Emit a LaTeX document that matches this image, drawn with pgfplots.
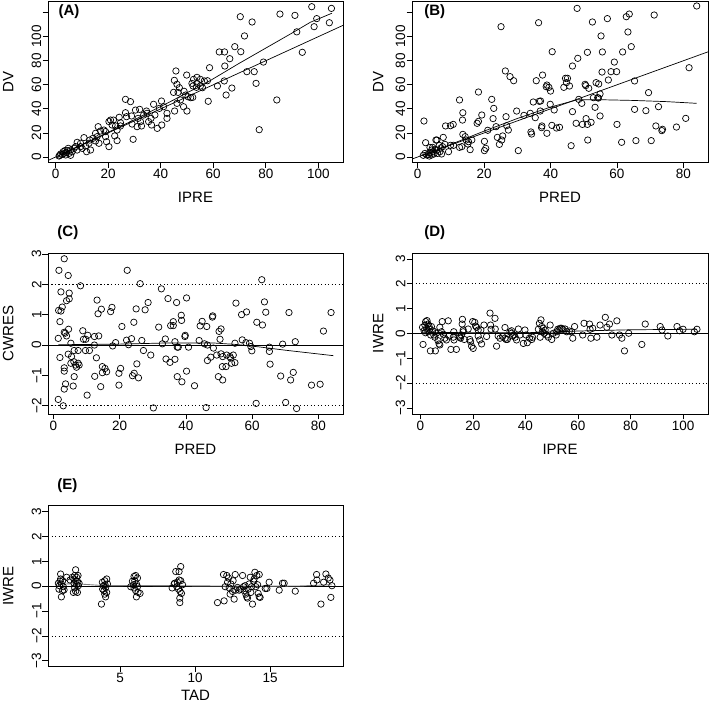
\documentclass[border=0pt]{standalone}
\usepackage{fontspec}
\setmainfont{Liberation Sans}
\usepackage{pgfplots}
\pgfplotsset{compat=1.18}
\newcommand\tkf{\fontsize{13.5}{16}\selectfont}
\newcommand\lbf{\fontsize{15}{18}\selectfont}
\newcommand\ttf{\fontsize{15}{18}\selectfont\bfseries}
\begin{document}
\begin{tikzpicture}
\useasboundingbox (0pt,0pt) rectangle (709pt,709pt);
\pgfplotsset{
  rbase/.style={
    scale only axis, width=295pt, height=161pt, anchor=south west,
    axis line style={line width=0.75pt, black},
    tick align=outside, xtick pos=left, ytick pos=left,
    major tick length=5.5pt,
    tick style={black, line width=0.75pt},
    xticklabel style={font=\tkf, inner sep=1pt},
    yticklabel style={font=\tkf, rotate=90, anchor=south, inner sep=1pt},
    xlabel style={font=\lbf, at={(axis description cs:0.5,-0.22)}, anchor=center},
    ylabel style={font=\lbf, at={(axis description cs:-0.135,0.5)}, anchor=center},
    title style={font=\ttf, anchor=west},
    clip=true,
  },
  pts/.style={only marks, mark=o, mark size=3.2pt, mark options={line width=0.7pt, black}, black},
  ln/.style={no marks, black, line width=0.7pt},
  dl/.style={no marks, black, line width=0.7pt, dash pattern=on 1.3pt off 2.2pt},
}
% ---------------- (A)
\begin{axis}[rbase, at={(48pt,546.7pt)},
  xmin=-2.9, xmax=109.4, ymin=-4.4, ymax=129.4,
  xtick={0,20,40,60,80,100}, xticklabels={0,20,40,60,80,100},
  ytick={0,20,40,60,80,100,120}, yticklabels={0,20,40,60,80,100,{}},
  xlabel={IPRE}, ylabel={DV},
  title={(A)}, title style={at={(axis description cs:0.024,0.9)}}]
\addplot[pts] coordinates {
(97.5,124.9)(105,123.5)(85.4,118.8)(91.1,117.7)(70.3,116.6)(74.8,112.2)(99.4,115)(104.2,111.6)
(98.4,108.3)(91.8,104)(71.9,100.6)(93.9,87)(68.2,91.7)(70.5,87.5)(62.3,87.3)(64.3,87.3)
(66.3,81.7)(79.1,78.9)(64.4,75.6)(58.6,74.2)(72.8,70.9)(75.6,70.9)(45.8,71.5)(49.9,68.1)
(76.3,61.2)(67.1,57.3)(64.9,51.5)(64.2,63.2)(61.6,59)(58.1,46.3)(84.2,47.4)(77.5,22.7)
(45.2,63.7)(46.2,60.4)(47.1,57.6)(44.9,53.7)(46.6,53.7)(48.9,54.6)(49.5,51.5)(50.4,50.1)
(51.4,49.3)(52.2,49.6)(47.5,47.4)(46.2,44.6)(48.7,41.8)(45.3,38.2)(50.0,38.2)(52.5,64.5)
(53.8,66.2)(55.1,64.5)(56.6,63.2)(57.8,63.4)(51.9,61.2)(53.8,61.2)(55.1,59)(55.9,57.6)
(53.6,57.9)(52.3,59)(26.6,47.9)(28.5,46)(40.3,46.5)(37.3,43.8)(32.0,39.6)(34.6,38.2)
(34.8,36.3)(39.5,40.4)(41.1,41.8)(42.4,36.3)(42.4,32.1)(40.4,26.6)(38.7,23.8)(36.5,26.6)
(36.3,32.1)(35.4,29.4)(31.4,32.1)(32.3,29.4)(32.7,25.8)(31.0,25.2)(29.1,27.4)(29.5,14.7)
(26.6,36.8)(27.0,33.5)(24.2,33)(28.9,34.1)(24.7,25.8)(20.9,30.7)(20.3,29.4)(21.5,26.6)
(22.8,25.8)(23.4,22.4)(22.5,17.5)(23.4,13.6)(19.0,16.9)(19.4,12.7)(20.3,8.6)(16.2,25.2)
(17.1,21.6)(19.0,21.1)(18.4,22.4)(15.2,19.7)(15.8,16.9)(14.2,15.5)(15.2,13.3)(16.5,11.4)
(13.0,14.1)(10.8,16.1)(12.7,11.4)(11.4,9.1)(9.5,8.6)(11.8,4.4)(13.3,5.8)(8.2,12.2)
(7.6,8.6)(8.2,5.8)(7.0,7.2)(5.7,5.8)(6.3,4.4)(5.1,3.0)(4.2,3.6)(3.2,3.0)(2.5,2.2)(1.6,1.4)
(3.8,1.7)(4.4,5.3)(5.7,1.4)(1.9,2.5)(1.3,0.8)(2.9,4.4)(3.5,5.3)(4.8,7.2)(9.5,11.4)(10.1,7.2)
(22,30.7)(30.4,39)(33.5,34.9)(37.8,34.9)(24.7,28.5)};
\addplot[ln] coordinates {(-2.9,-2.9)(109.4,109.4)};
\addplot[ln] coordinates {(1.2,1.2)(10,10.2)(20,20.5)(30,31)(40,42)(45,47.5)(50,53.5)(55,58.5)(60,65)(70,78)(80,90.5)(90,103)(97,112)(105.2,119.5)};
\end{axis}
% ---------------- (B)
\begin{axis}[rbase, at={(412pt,546.7pt)}, width=296pt,
  xmin=-1.7, xmax=87.4, ymin=-4.4, ymax=129.4,
  xtick={0,20,40,60,80}, xticklabels={0,20,40,60,80},
  ytick={0,20,40,60,80,100,120}, yticklabels={0,20,40,60,80,100,{}},
  xlabel={PRED}, ylabel={DV},
  ylabel style={at={(axis description cs:-0.114,0.5)}},
  title={(B)}, title style={at={(axis description cs:0.03,0.9)}}]
\addplot[pts] coordinates {
(84.0,125.5)(48.0,123.5)(63.7,118.8)(71.2,118)(62.8,116.6)(57.1,115)(52.6,112.2)(36.4,111.6)
(25.1,108.3)(63.3,103.9)(55.2,100.6)(64.3,91.7)(40.5,87.5)(51.1,87)(55.6,87.3)(61.7,87.3)
(48.2,82)(46.6,75.6)(59.2,78.9)(55.5,70.6)(58.2,70.9)(59.9,70.9)(57.4,64)(81.7,74.2)
(26.4,71.5)(27.8,66.8)(28.9,63.4)(35.7,63.4)(44.5,65.4)(45.1,65.4)(44.8,61.8)(44.0,57.9)
(45.7,59.0)(37.6,68.1)(38.9,59.8)(39.5,57.9)(40.0,54.8)(38.7,58.4)(50.4,60.4)(50.6,59.3)
(51.5,57.1)(53.7,61.8)(54.5,60.7)(65.3,63.2)(69.5,53.5)(52.9,49.3)(54.2,49.3)(54.9,52.4)
(54.4,49)(48.5,47.9)(49.4,44.6)(53.4,41.3)(54.9,34.1)(46.6,37.7)(65.3,39.6)(68.7,38.5)
(72.5,41.8)(47.7,28.0)(49.6,27.1)(50.7,31.9)(51.1,27.1)(52.2,28.8)(60.0,27.1)(71.7,25.8)
(73.5,21.9)(73.7,23.0)(77.9,24.9)(80.7,32.1)(51.2,14.1)(46.2,9.4)(61.4,12.2)(65.7,13.6)
(70.3,13.6)(41.8,24.1)(42.7,24.7)(40.4,26.3)(37.4,25.8)(37.3,24.4)(38.9,19.7)(34.1,20.8)
(34.3,19.1)(41.1,39.1)(39.9,43.8)(36.6,46.3)(37.0,46.5)(34.8,45.7)(36.9,38.2)(35.4,32.7)
(33.9,36.3)(32.0,34.6)(29.8,38.2)(30.3,5.3)(26.6,33.5)(27.3,22.4)(26.8,26.0)(25.6,17.5)
(24.6,10.5)(25.3,14.1)(24.0,16.3)(23.6,25.2)(22.7,31.9)(22.3,47.9)(22.9,40.4)(21.1,22.2)
(20.1,5.3)(20.5,7.2)(20.1,13.0)(19.3,34.9)(18.3,54.0)(17.9,28.0)(18.3,29.6)(12.6,47.4)
(13.6,36.8)(13.5,30.7)(13.6,18.8)(14.3,16.9)(14.6,14.1)(15.3,12.7)(15.8,6.1)(16.3,14.1)
(15.1,10.8)(12.6,8.0)(13.3,8.6)(9.9,26.0)(8.4,25.8)(10.7,27.1)(7.7,16.3)(9.3,4.4)(9.9,9.7)
(10.8,9.7)(8.2,10.5)(7.5,8.6)(7.0,7.5)(6.5,9.7)(5.5,14.1)(5.8,14.1)(7.2,2.5)(6.7,4.4)
(5.7,5.8)(4.7,4.4)(4.2,5.8)(3.7,3.6)(3.2,2.2)(2.7,1.7)(2.2,3.0)(1.7,1.4)(3.5,0.8)(2.4,11.9)
(1.9,29.9)(3.7,8.0)(4.5,8.0)(5.2,6.4)(6.0,3.0)(4.2,1.7)(4.9,2.5)};
\addplot[ln] coordinates {(-1.7,-1.7)(87.4,87.4)};
\addplot[ln] coordinates {(1.5,1.2)(10,10.5)(20,21.5)(30,32)(40,41.5)(48,47.5)(55,47.6)(65,47)(75,46)(84,44.6)};
\end{axis}
% ---------------- (C)
\begin{axis}[rbase, at={(48pt,295pt)},
  xmin=-1.6, xmax=87.4, ymin=-2.27, ymax=3.03,
  xtick={0,20,40,60,80}, xticklabels={0,20,40,60,80},
  ytick={-2,-1,0,1,2,3}, yticklabels={−2,−1,0,1,2,3},
  xlabel={PRED}, ylabel={CWRES},
  title={(C)}, title style={at={(axis description cs:0.02,1.087)}}]
\addplot[pts] coordinates {
(3.3,2.84)(1.7,2.46)(4.5,2.29)(22.3,2.46)(26.2,2.02)(8.2,1.95)(62.9,2.15)(2.3,1.75)(4.8,1.71)
(4.8,1.52)(4.0,1.46)(2.7,1.25)(1.6,1.14)(2.3,1.12)(13.2,1.48)(17.7,1.24)(14.5,1.18)(13.5,1.03)
(17.3,1.10)(28.6,1.40)(25.0,1.19)(27.7,1.16)(34.6,1.53)(40.2,1.55)(37.2,1.40)(32.6,1.85)
(55.1,1.38)(48.1,0.96)(48.0,0.92)(38.6,0.98)(38.7,0.81)(36.2,0.77)(36.2,0.64)(35.4,0.64)
(44.9,0.78)(44.3,0.63)(46.3,0.61)(50.6,0.53)(50.0,0.45)(56.8,1.00)(58.3,1.09)(63.7,1.42)
(64.1,1.08)(71.1,1.07)(83.8,1.07)(81.5,0.46)(63.1,0.66)(61.4,0.75)(31.8,0.59)(24.3,0.75)
(20.7,0.61)(2.0,0.77)(3.6,0.39)(4.6,0.52)(3.3,0.42)(1.5,0.22)(4.0,0.30)(5.3,0.06)(8.9,0.47)
(9.8,0.19)(9.1,0.19)(10.4,0.32)(12.4,0.28)(13.7,0.30)(9.7,-0.18)(10.9,-0.18)(12.4,0.00)
(18.8,0.08)(17.9,-0.03)(22.1,0.16)(23.6,0.21)(22.7,0.01)(26.7,0.15)(27.2,-0.18)(29.4,-0.33)
(32.9,0.04)(33.8,0.20)(36.7,0.11)(37.4,-0.07)(40.8,-0.07)(39.7,0.28)(39.8,0.32)(44.0,0.15)
(45.6,0.04)(46.5,0.00)(50.3,0.19)(48.3,-0.10)(54.8,0.06)(57.0,0.17)(58.1,0.08)(59.2,0.06)
(59.6,-0.05)(59.9,-0.19)(65.2,-0.07)(65.2,-0.21)(69.2,0.03)(73.0,0.11)(2.0,-0.41)(4.5,-0.30)
(5.5,-0.38)(6.3,-0.18)(7.5,-0.18)(5.3,-0.60)(6.2,-0.55)(6.7,-0.66)(7.0,-0.73)(7.5,-0.60)
(7.8,-0.66)(3.3,-0.75)(3.3,-0.86)(6.3,-1.04)(6.0,-1.35)(3.7,-1.28)(3.3,-1.45)(1.5,-1.79)
(3.0,-2.0)(10.2,-1.65)(13.0,-0.42)(12.5,-1.03)(14.3,-1.37)(14.8,-0.71)(14.8,-0.91)(15.6,-0.77)
(16.1,-0.88)(19.8,-0.93)(20.3,-0.77)(19.8,-1.32)(23.9,-1.01)(24.4,-0.93)(25.2,-0.62)(25.7,-1.08)
(30.2,-2.07)(34.0,-0.46)(35.2,-0.57)(36.7,-0.47)(37.7,-0.07)(37.4,-1.04)(38.8,-1.21)(40.2,-0.86)
(42.6,-1.34)(46.1,-2.06)(46.5,-0.51)(47.5,-0.40)(49.3,-0.33)(49.8,-1.04)(51.1,-1.15)(50.6,-0.29)
(51.1,-0.38)(51.0,-0.71)(52.1,-0.71)(52.3,-0.33)(53.3,-0.38)(53.5,-0.43)(53.8,-0.60)(54.3,-0.33)
(54.8,-0.58)(65.4,-0.63)(68.6,-1.02)(71.6,-1.15)(72.4,-0.90)(61.2,-1.92)(70.1,-1.89)(73.4,-2.09)
(77.9,-1.32)(80.5,-1.29)};
\addplot[ln] coordinates {(-1.6,0)(87.4,0)};
\addplot[dl] coordinates {(-1.6,2)(87.4,2)};
\addplot[dl] coordinates {(-1.6,-2)(87.4,-2)};
\addplot[ln] coordinates {(1.5,0.01)(20,0.03)(35,0.07)(48,0.07)(55,0.02)(62,-0.06)(70,-0.17)(84.5,-0.35)};
\end{axis}
% ---------------- (D)
\begin{axis}[rbase, at={(412pt,295pt)}, width=296pt,
  xmin=-3.2, xmax=109.5, ymin=-3.24, ymax=3.24,
  xtick={0,20,40,60,80,100}, xticklabels={0,20,40,60,80,100},
  ytick={-3,-2,-1,0,1,2,3}, yticklabels={−3,−2,−1,0,1,2,3},
  xlabel={IPRE}, ylabel={IWRE},
  ylabel style={at={(axis description cs:-0.114,0.5)}},
  title={(D)}, title style={at={(axis description cs:0.03,1.087)}}]
\addplot[pts] coordinates {
(1.0,-0.44)(0.8,0.25)(1.4,0.11)(1.7,0.34)(2.0,0.48)(2.5,0.52)(2.9,0.38)(2.3,0.21)(1.9,0.03)
(2.9,0.07)(3.6,0.17)(3.9,-0.06)(3.3,0.28)(4.2,0.28)(4.6,0.11)(5.1,-0.06)(5.5,-0.15)(5.5,0.07)
(3.8,-0.70)(5.7,-0.70)(6.1,0.01)(6.7,-0.29)(7.1,-0.42)(7.4,-0.46)(7.4,0.25)(8.0,0.07)(8.3,0.48)
(8.7,-0.03)(9.3,-0.19)(9.9,-0.26)(10.6,0.51)(10.9,-0.10)(11.6,-0.64)(12.5,-0.15)(12.7,0.07)
(12.8,-0.26)(13.7,-0.64)(14.8,-0.10)(15.0,-0.15)(15.3,-0.19)(15.6,-0.06)(15.9,0.38)(16.0,0.57)
(16.3,0.07)(16.3,0.14)(16.7,-0.24)(18.2,0.18)(18.8,-0.24)(19.1,-0.33)(19.5,-0.51)(20.1,-0.60)
(19.9,0.48)(20.7,0.45)(21.0,0.30)(21.4,0.25)(22.0,0.14)(22.0,-0.10)(22.6,-0.26)(23.0,0.14)
(23.3,-0.42)(24.2,0.34)(25.2,-0.12)(26.5,0.82)(26.7,0.34)(26.9,0.17)(28.4,0.61)(28.5,0.18)
(29.0,-0.51)(29.6,-0.10)(30.3,-0.19)(31.3,-0.12)(32.2,0.24)(32.2,-0.19)(32.6,-0.24)(33.1,-0.24)
(34.1,0.07)(34.7,0.11)(34.7,0.01)(35.1,-0.10)(35.6,-0.06)(36.1,-0.15)(36.6,-0.26)(37.3,0.18)
(37.9,-0.06)(39.2,-0.40)(39.8,0.14)(40.2,-0.06)(40.7,-0.37)(41.5,-0.19)(42.4,-0.24)(42.7,-0.15)
(44.9,0.17)(45.3,0.41)(45.6,-0.15)(45.9,0.55)(46.2,0.28)(46.4,0.07)(46.8,0.21)(47.1,0.01)
(47.5,0.14)(48.1,-0.06)(48.7,-0.15)(49.4,0.34)(50.0,-0.24)(50.6,0.01)(51.7,-0.06)(51.9,0.07)
(52.3,0.17)(52.8,0.14)(53.2,0.21)(53.8,0.21)(54.2,0.17)(55.1,0.18)(55.7,0.07)(56.7,0.10)
(57.6,0.07)(58.0,-0.19)(58.7,0.28)(61.8,-0.06)(62.3,0.41)(64.4,0.38)(64.6,0.17)(64.9,-0.19)
(65.6,0.21)(67.2,-0.15)(68.4,0.34)(70.4,0.65)(71.0,0.25)(72.0,0.38)(72.9,-0.06)(74.8,0.51)
(75.8,-0.06)(76.7,-0.19)(77.7,-0.70)(79.3,0.01)(84.3,-0.44)(85.6,0.38)(91.3,0.28)(92.0,0.14)
(94.2,-0.10)(97.7,0.28)(98.7,0.11)(100.0,0.17)(104.3,0.07)(105.3,0.17)};
\addplot[ln] coordinates {(-3.2,0)(109.5,0)};
\addplot[dl] coordinates {(-3.2,2)(109.5,2)};
\addplot[dl] coordinates {(-3.2,-2)(109.5,-2)};
\addplot[ln] coordinates {(0.8,0.05)(20,0.03)(40,0.03)(50,0.06)(60,0.1)(80,0.15)(105.3,0.17)};
\end{axis}
% ---------------- (E)
\begin{axis}[rbase, at={(48pt,42.3pt)},
  xmin=0.2, xmax=19.85, ymin=-3.24, ymax=3.24,
  xtick={5,10,15}, xticklabels={5,10,15},
  ytick={-3,-2,-1,0,1,2,3}, yticklabels={−3,−2,−1,0,1,2,3},
  xlabel={TAD}, ylabel={IWRE},
  xlabel style={at={(axis description cs:0.5,-0.176)}},
  title={(E)}, title style={at={(axis description cs:0.02,1.087)}}]
\addplot[pts] coordinates {
(1.04,0.49)(1.0,0.2)(1.09,0.09)(0.93,-0.12)(1.16,-0.18)(1.09,-0.43)(1.22,-0.02)(0.96,0.02)
(1.18,0.22)(1.27,-0.15)(0.89,0.12)(1.04,0.29)(1.44,0.36)(1.67,0.25)
(2.04,0.66)(1.98,0.43)(2.11,0.36)(2.2,0.43)(1.93,0.29)(2.07,0.22)(2.16,0.2)(1.98,-0.07)
(1.89,-0.25)(2.04,-0.21)(2.16,-0.25)(2.22,0.02)(2.27,0.12)(1.93,0.12)(2.11,0.06)(1.82,0.36)
(3.76,-0.72)(3.82,0.16)(3.98,0.22)(4.11,0.29)(3.89,0.02)(4.04,-0.05)(3.93,-0.18)(3.98,-0.32)
(4.04,-0.43)(4.11,-0.25)(4.16,0.09)(3.84,-0.12)(4.0,0.06)
(5.71,-0.02)(5.82,0.2)(5.93,0.39)(6.04,0.43)(6.16,0.33)(5.98,0.22)(6.09,0.09)(5.93,-0.07)
(6.04,-0.18)(6.09,-0.43)(6.2,-0.25)(6.33,-0.29)(5.89,0.06)(6.16,-0.02)
(8.47,-0.07)(8.71,0.59)(9.04,0.79)(8.93,0.59)(8.64,0.12)(8.82,0.16)(8.93,0.25)(9.04,0.22)
(8.78,-0.02)(8.89,-0.12)(9.0,-0.21)(9.09,-0.29)(8.98,-0.48)(8.98,-0.66)(9.16,0.06)(8.6,0.09)
(11.49,-0.66)(11.89,0.47)(11.93,-0.59)(12.0,-0.02)(12.11,0.43)(12.22,0.33)(12.16,0.16)
(12.27,-0.07)(12.33,-0.32)(12.38,0.09)(12.49,-0.21)(12.53,0.22)(12.6,-0.52)(12.67,0.47)
(12.71,-0.16)(12.82,-0.05)(12.93,-0.16)(13.04,-0.12)(13.16,0.43)(13.22,-0.02)(13.27,-0.18)
(13.33,0.02)(13.38,-0.32)(13.44,-0.43)(13.49,-0.48)(13.53,-0.12)(13.6,0.09)(13.67,0.36)
(13.71,-0.25)(13.76,-0.02)(13.82,-0.72)(13.89,0.2)(13.93,0.29)(13.98,0.56)(14.04,-0.02)
(14.11,0.43)(14.16,0.06)(14.2,-0.29)(14.27,-0.43)(14.33,-0.45)(14.27,0.47)(14.67,-0.09)
(14.78,-0.09)(14.93,0.16)(15.6,-0.16)(15.82,0.12)(15.93,0.12)(16.67,-0.2)(17.89,0.12)
(18.09,0.47)(18.11,0.25)(18.38,-0.72)(19.04,-0.45)(18.56,0.16)(18.71,0.49)(18.87,0.33)
(18.98,0.25)(19.11,0.02)};
\addplot[ln] coordinates {(0.2,0)(19.85,0)};
\addplot[dl] coordinates {(0.2,2)(19.85,2)};
\addplot[dl] coordinates {(0.2,-2)(19.85,-2)};
\addplot[no marks, gray, line width=0.9pt] coordinates {(0.9,0.08)(2,0.1)(4,0.02)(6,0.03)(9,0.02)(13,0.0)(15,0.0)(17,0.01)(19.1,0.06)};
\end{axis}
\end{tikzpicture}
\end{document}
